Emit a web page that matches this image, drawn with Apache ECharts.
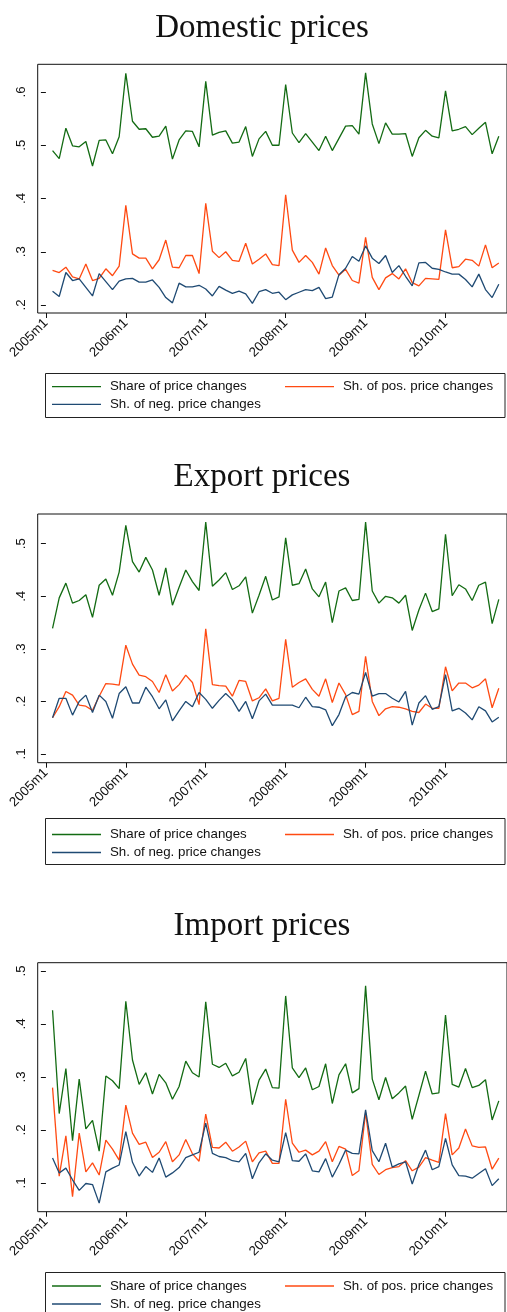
<!DOCTYPE html>
<html>
<head>
<meta charset="utf-8">
<script src="https://cdn.jsdelivr.net/npm/echarts@6/dist/echarts.min.js"></script>
<style>
html,body{margin:0;padding:0;background:#fff;}
#chart{width:507px;height:1312px;}
</style>
</head>
<body>
<div id="chart"></div>
<script>
// Monthly observations 2005m2 .. 2010m9 (x = months since 2005m1)
const firstMonthOffset = 1; // 2005m2
const xTickValues = [0, 12, 24, 36, 48, 60];
const xTickLabels = ['2005m1', '2006m1', '2007m1', '2008m1', '2009m1', '2010m1'];

const seriesNames = ['Share of price changes', 'Sh. of pos. price changes', 'Sh. of neg. price changes'];
const panelTitles = ['Domestic prices', 'Export prices', 'Import prices'];

const domShare = [.490,.475,.532,.499,.497,.507,.461,.509,.510,.484,.516,.635,.545,.530,.531,.515,.517,.536,.474,.510,.527,.526,.497,.620,.519,.524,.527,.504,.506,.535,.479,
  .512,.526,.500,.500,.614,.523,.505,.522,.506,.490,.517,.490,.513,.536,.537,.521,.636,.540,.503,.542,.521,.521,.522,.479,.514,.528,.517,.514,.602,.527,.530,.535,.520,.532,.543,.484,.517];
const domPos = [.265,.261,.271,.253,.249,.277,.246,.250,.268,.255,.273,.387,.296,.288,.288,.268,.285,.322,.271,.270,.293,.293,.259,.391,.301,.289,.300,.284,.282,.316,.277,
  .286,.296,.276,.274,.407,.303,.280,.293,.280,.258,.307,.274,.256,.267,.246,.241,.327,.252,.229,.251,.259,.249,.268,.242,.236,.250,.249,.248,.341,.270,.272,.286,.284,.273,.313,.270,.279];
const domNeg = [.226,.216,.261,.246,.249,.233,.217,.259,.244,.229,.245,.249,.250,.243,.243,.247,.233,.214,.204,.241,.234,.234,.237,.230,.217,.235,.228,.222,.226,.221,.203,
  .225,.229,.222,.224,.210,.219,.224,.229,.227,.233,.212,.215,.257,.269,.291,.282,.311,.288,.278,.293,.261,.274,.254,.236,.279,.280,.269,.267,.262,.258,.258,.248,.234,.258,.229,.214,.239];

const expShare = [.339,.397,.425,.387,.392,.403,.360,.421,.433,.402,.446,.535,.466,.446,.474,.450,.402,.454,.383,.417,.450,.428,.411,.541,.419,.431,.445,.413,.420,.437,.368,
  .402,.438,.393,.399,.511,.421,.424,.452,.414,.399,.427,.350,.410,.416,.392,.394,.541,.410,.387,.400,.397,.387,.402,.335,.374,.406,.371,.376,.518,.401,.422,.414,.392,.421,.427,.348,.394];
const expPos = [.169,.190,.219,.212,.193,.191,.183,.210,.234,.233,.231,.307,.271,.250,.247,.238,.217,.251,.220,.232,.250,.236,.194,.338,.232,.230,.229,.210,.240,.238,.201,
  .207,.224,.201,.206,.318,.227,.236,.243,.223,.210,.243,.198,.235,.213,.175,.181,.286,.200,.173,.186,.190,.189,.186,.181,.179,.195,.187,.187,.266,.220,.235,.235,.226,.231,.243,.188,.225];
const expNeg = [.169,.206,.206,.174,.200,.212,.179,.212,.200,.168,.215,.228,.197,.197,.227,.209,.186,.203,.163,.182,.200,.190,.217,.204,.187,.202,.215,.203,.181,.200,.167,
  .201,.214,.193,.193,.193,.193,.188,.208,.190,.189,.184,.154,.175,.209,.217,.214,.255,.210,.215,.215,.206,.199,.219,.155,.197,.211,.185,.190,.251,.182,.187,.178,.165,.190,.182,.161,.170];

const impShare = [.426,.231,.316,.180,.296,.202,.218,.160,.302,.293,.278,.443,.332,.286,.308,.268,.305,.289,.258,.282,.330,.308,.300,.442,.324,.318,.326,.302,.309,.335,.248,
  .294,.315,.280,.279,.453,.317,.299,.317,.276,.282,.325,.250,.304,.325,.270,.278,.472,.296,.257,.299,.259,.270,.283,.220,.265,.311,.268,.270,.417,.286,.281,.316,.280,.284,.295,.219,.255];
const impPos = [.280,.113,.189,.074,.194,.121,.138,.115,.181,.164,.143,.247,.194,.173,.177,.148,.158,.178,.140,.153,.182,.155,.141,.230,.167,.166,.177,.160,.168,.179,.140,
  .157,.160,.137,.137,.258,.175,.158,.162,.153,.160,.178,.140,.169,.164,.114,.123,.233,.135,.116,.125,.129,.131,.142,.123,.130,.148,.143,.139,.231,.153,.166,.202,.170,.167,.168,.126,.147];
const impNeg = [.147,.119,.128,.106,.086,.099,.097,.062,.121,.128,.134,.197,.139,.113,.131,.120,.147,.111,.119,.129,.148,.153,.158,.213,.156,.150,.148,.142,.140,.156,.108,
  .138,.155,.143,.140,.195,.142,.141,.155,.123,.121,.146,.111,.135,.162,.156,.155,.238,.161,.140,.175,.130,.136,.140,.098,.135,.162,.125,.131,.184,.134,.114,.113,.109,.118,.127,.095,.108];

const yTicks1 = [.2, .3, .4, .5, .6];
const yTicks2 = [.1, .2, .3, .4, .5];
const yTicks3 = [.1, .2, .3, .4, .5];

const panelData = [[domShare, domPos, domNeg], [expShare, expPos, expNeg], [impShare, impPos, impNeg]];
const panelYTicks = [yTicks1, yTicks2, yTicks3];

// layout (pixels)
const colors = ['#136b13', '#ff4a12', '#1f4a73'];
const layout = [
  {title: 28, top: 64.3, height: 248.7, ymin: .185, ymax: .652, box: [372.7, 44], rows: [386.7, 404.3]},
  {title: 477.5, top: 514, height: 248.7, ymin: .0835, ymax: .5565, box: [818.3, 46], rows: [834.5, 852.5]},
  {title: 926.5, top: 962.7, height: 249, ymin: .0458, ymax: .5157, box: [1271.7, 46], rows: [1286, 1304]}
];
const sans = '"Liberation Sans", Arial, sans-serif';
const fs = 13.3;

const grids = [], xAxes = [], yAxes = [], series = [], legends = [], graphics = [];
layout.forEach((L, p) => {
  grids.push({left: 37.7, top: L.top, width: 475.6, height: L.height, show: true,
    borderColor: '#111', borderWidth: 1, backgroundColor: 'transparent', containLabel: false});
  xAxes.push({type: 'value', gridIndex: p, min: -1.23, max: 69.23,
    axisLine: {show: false}, splitLine: {show: false},
    axisTick: {show: true, length: 5, customValues: xTickValues, lineStyle: {color: '#111'}},
    axisLabel: {show: true, customValues: xTickValues, rotate: 45, margin: 8, fontSize: fs,
      fontFamily: sans, color: '#111',
      formatter: v => xTickLabels[xTickValues.indexOf(Math.round(v))] || ''}
  });
  yAxes.push({type: 'value', gridIndex: p, min: L.ymin, max: L.ymax,
    axisLine: {show: false}, splitLine: {show: false},
    axisTick: {show: true, length: 5, customValues: panelYTicks[p], lineStyle: {color: '#111'}},
    axisLabel: {show: true, customValues: panelYTicks[p], rotate: 90, margin: 10, fontSize: fs,
      fontFamily: sans, color: '#111',
      formatter: v => (+v).toFixed(1).replace(/^0/, '')}
  });
  panelData[p].forEach((vals, s) => {
    series.push({type: 'line', name: seriesNames[s], xAxisIndex: p, yAxisIndex: p,
      data: vals.map((v, i) => [i + firstMonthOffset, v]),
      showSymbol: false, symbol: 'none', animation: false, silent: true,
      lineStyle: {color: colors[s], width: 1.3}, itemStyle: {color: colors[s]}});
  });
  const legendPos = [[52, L.rows[0]], [285, L.rows[0]], [52, L.rows[1]]];
  seriesNames.forEach((n, s) => {
    legends.push({data: [n], left: legendPos[s][0], top: legendPos[s][1] - 8, padding: 0,
      icon: 'rect', itemWidth: 49, itemHeight: 1.3, selectedMode: false,
      textStyle: {fontSize: fs, fontFamily: sans, color: '#111', lineHeight: 16, padding: [0, 0, 0, 4]}});
  });
  graphics.push({type: 'rect', silent: true,
    shape: {x: 45.5, y: Math.round(L.box[0]) + 0.5, width: 459.5, height: L.box[1]},
    style: {fill: 'none', stroke: '#222', lineWidth: 1}});
  graphics.push({type: 'text', silent: true,
    style: {text: panelTitles[p], x: 262, y: L.title, textAlign: 'center', textVerticalAlign: 'middle',
      font: '33px "Liberation Serif", "Times New Roman", serif', fill: '#111'}});
});

const chart = echarts.init(document.getElementById('chart'), null, {renderer: 'canvas'});
chart.setOption({
  animation: false,
  backgroundColor: '#fff',
  grid: grids, xAxis: xAxes, yAxis: yAxes, series: series, legend: legends, graphic: graphics
});
</script>
</body>
</html>
